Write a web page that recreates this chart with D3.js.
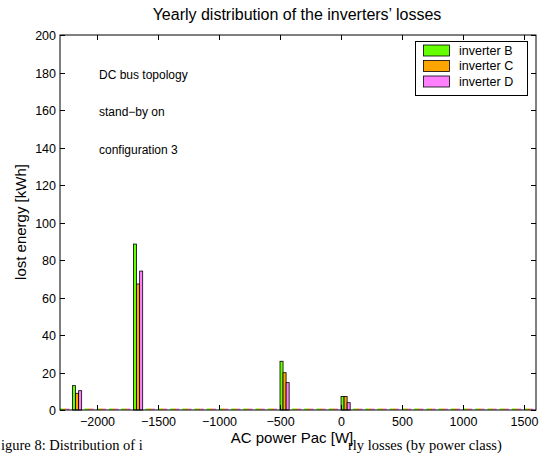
<!DOCTYPE html>
<html><head><meta charset="utf-8">
<script src="https://cdn.jsdelivr.net/npm/d3@7"></script>
<style>body{margin:0;background:#fff}svg{display:block}</style>
</head><body><svg id="c" width="548" height="454"></svg>
<script>
// bin centers (W)
const binCenters = [-2260,-2160,-2060,-1960,-1860,-1760,-1660,-1560,-1460,-1360,-1260,-1160,-1060,-960,-860,-760,-660,-560,-460,-360,-260,-160,-60,40,140,240,340,440,540,640,740,840,940,1040,1140,1240,1340,1440,1540];
const seriesNames = ["inverter B","inverter C","inverter D"];
// non-zero bins (others are zero)
const valuesB = {"-2160":13.0,"-1660":88.5,"-460":26.0,"40":7.2};
const valuesC = {"-2160":8.9,"-1660":67.2,"-460":19.9,"40":7.2};
const valuesD = {"-2160":10.3,"-1660":74.1,"-460":14.6,"40":3.9};
const xTicks = [-2000,-1500,-1000,-500,0,500,1000,1500];
const yTicks = [0,20,40,60,80,100,120,140,160,180,200];
const annotations = ["DC bus topology","stand\u2212by on","configuration 3"];
const captionLeft = "igure 8: Distribution of i";
const captionRight = "rly losses (by power class)";
const colors = ["#66ff00","#ffa500","#ff80ff"];

const svg = d3.select("#c");
const L=60,R=536,T=35,B=410;
const x = d3.scaleLinear().domain([-2300,1600]).range([L,R]);
const y = d3.scaleLinear().domain([0,200]).range([B,T]);
const font = "Liberation Sans, Arial, Helvetica, sans-serif";

const allSeries=[valuesB,valuesC,valuesD];
const barW = 25;
allSeries.forEach((s,i)=>{
  const g=svg.append("g");
  binCenters.forEach(c=>{
    const v = s[String(c)]||0;
    const x0 = x(c + (i-1)*barW - barW/2), x1 = x(c + (i-1)*barW + barW/2);
    if(v>0){
      g.append("rect").attr("x",x0).attr("y",y(v)).attr("width",x1-x0).attr("height",y(0)-y(v))
        .attr("fill",colors[i]).attr("stroke","#000").attr("stroke-width",0.8);
    } else {
      g.append("rect").attr("x",x0).attr("y",B-1.5).attr("width",x1-x0).attr("height",1.5)
        .attr("fill",colors[i]);
    }
  });
});

// axes box
svg.append("rect").attr("x",L).attr("y",T).attr("width",R-L).attr("height",B-T)
  .attr("fill","none").attr("stroke","#000").attr("stroke-width",1);
const ax = svg.append("g").attr("font-family",font).attr("font-size",12.5);
xTicks.forEach(t=>{
  const px=Math.round(x(t))+0.5;
  ax.append("line").attr("x1",px).attr("x2",px).attr("y1",B).attr("y2",B-5).attr("stroke","#000");
  ax.append("line").attr("x1",px).attr("x2",px).attr("y1",T).attr("y2",T+5).attr("stroke","#000");
  ax.append("text").attr("x",px).attr("y",B+16).attr("text-anchor","middle")
    .text(t<0?"\u2212"+Math.abs(t):t);
});
yTicks.forEach(t=>{
  const py=Math.round(y(t))+0.5;
  ax.append("line").attr("x1",L).attr("x2",L+5).attr("y1",py).attr("y2",py).attr("stroke","#000");
  ax.append("line").attr("x1",R).attr("x2",R-5).attr("y1",py).attr("y2",py).attr("stroke","#000");
  ax.append("text").attr("x",L-4).attr("y",py+4).attr("text-anchor","end").text(t);
});

// title & labels
svg.append("text").attr("x",297).attr("y",20).attr("text-anchor","middle")
  .attr("font-family",font).attr("font-size",16).text("Yearly distribution of the inverters\u2019 losses");
svg.append("text").attr("transform","translate(26,222) rotate(-90)").attr("text-anchor","middle")
  .attr("font-family",font).attr("font-size",15).text("lost energy [kWh]");

// caption (partially hidden behind the x label)
svg.append("text").attr("x",1).attr("y",450).attr("font-family","Liberation Serif, Times New Roman, serif")
  .attr("font-size",14.5).text(captionLeft);
svg.append("text").attr("x",348).attr("y",450).attr("font-family","Liberation Serif, Times New Roman, serif")
  .attr("font-size",14.5).text(captionRight);
svg.append("text").attr("x",292).attr("y",443).attr("text-anchor","middle")
  .attr("font-family",font).attr("font-size",15).text("AC power Pac [W]");

// annotations
annotations.forEach((a,i)=>{
  svg.append("text").attr("x",99).attr("y",78.5+i*37.5).attr("font-family",font).attr("font-size",12).text(a);
});

// legend
const lg=svg.append("g");
lg.append("rect").attr("x",415.5).attr("y",41.5).attr("width",112).attr("height",54)
  .attr("fill","#fff").attr("stroke","#000");
seriesNames.forEach((n,i)=>{
  const cy=50+i*15.5;
  lg.append("rect").attr("x",423.5).attr("y",cy-5).attr("width",26).attr("height",11)
    .attr("fill",colors[i]).attr("stroke","#000").attr("stroke-width",0.8);
  lg.append("text").attr("x",459).attr("y",cy+4.5).attr("font-family",font).attr("font-size",12.5).text(n);
});
</script></body></html>
